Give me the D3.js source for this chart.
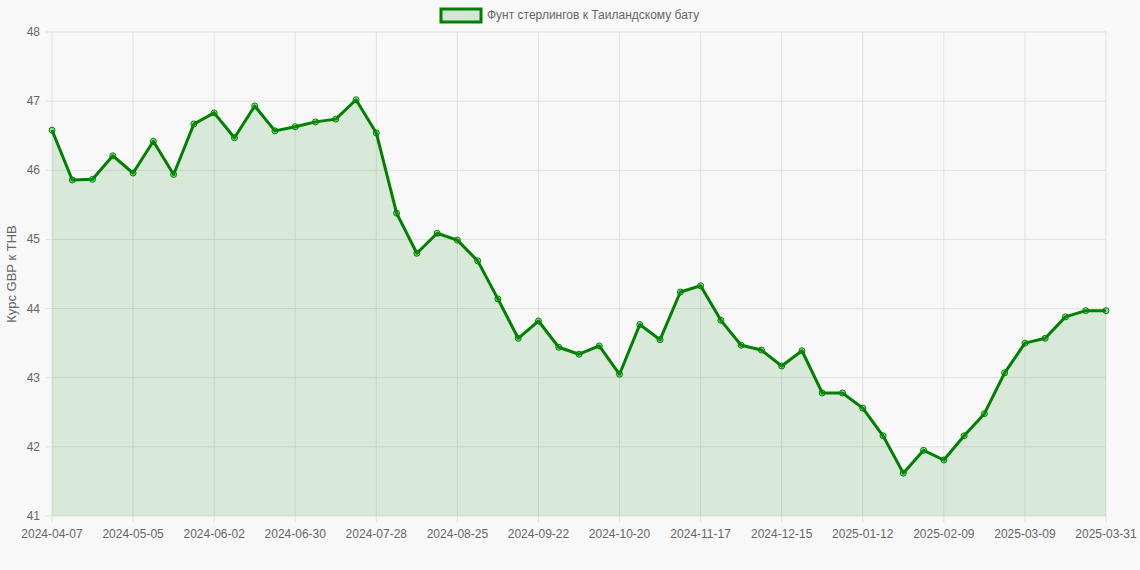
<!DOCTYPE html>
<html><head><meta charset="utf-8">
<script src="https://cdn.jsdelivr.net/npm/d3@7"></script>
<style>body{margin:0;background:#f8f8f8;font-family:"Liberation Sans",Arial,sans-serif;}</style>
</head><body><svg id="c" width="1140" height="570"></svg>
<script>
const dates=["2024-04-07","2024-04-14","2024-04-21","2024-04-28","2024-05-05","2024-05-12","2024-05-19","2024-05-26","2024-06-02","2024-06-09","2024-06-16","2024-06-23","2024-06-30","2024-07-07","2024-07-14","2024-07-21","2024-07-28","2024-08-04","2024-08-11","2024-08-18","2024-08-25","2024-09-01","2024-09-08","2024-09-15","2024-09-22","2024-09-29","2024-10-06","2024-10-13","2024-10-20","2024-10-27","2024-11-03","2024-11-10","2024-11-17","2024-11-24","2024-12-01","2024-12-08","2024-12-15","2024-12-22","2024-12-29","2025-01-05","2025-01-12","2025-01-19","2025-01-26","2025-02-02","2025-02-09","2025-02-16","2025-02-23","2025-03-02","2025-03-09","2025-03-16","2025-03-23","2025-03-30","2025-03-31"];
const values=[46.58,45.86,45.87,46.21,45.96,46.42,45.94,46.67,46.83,46.47,46.93,46.57,46.63,46.70,46.74,47.02,46.54,45.38,44.80,45.09,44.99,44.69,44.14,43.57,43.82,43.44,43.34,43.46,43.05,43.77,43.55,44.24,44.33,43.83,43.47,43.40,43.17,43.39,42.78,42.78,42.56,42.16,41.62,41.95,41.81,42.16,42.48,43.07,43.50,43.57,43.88,43.97,43.97];
const yTicks=[41,42,43,44,45,46,47,48];
const seriesName="Фунт стерлингов к Таиландскому бату";
const yTitle="Курс GBP к THB";

const svg=d3.select("#c");
const L=52,R=1106,T=32,B=516;
const x=d3.scalePoint().domain(dates).range([L,R]);
const y=d3.scaleLinear().domain([41,48]).range([B,T]);
const idx=dates.map((d,i)=>i);
const xLab=dates.filter((d,i)=>i%4===0||i===dates.length-1);
const g=svg.append("g");
// grid
g.selectAll(".vg").data(xLab).join("line").attr("x1",d=>x(d)).attr("x2",d=>x(d)).attr("y1",T).attr("y2",B+6).attr("stroke","#e0e0e0");
g.selectAll(".hg").data(yTicks).join("line").attr("x1",L-6).attr("x2",R).attr("y1",d=>y(d)).attr("y2",d=>y(d)).attr("stroke","#e0e0e0");
g.selectAll(".yl").data(yTicks).join("text").attr("x",L-12).attr("y",d=>y(d)+4).attr("text-anchor","end").attr("font-size",12).attr("fill","#666").text(d=>d);
g.selectAll(".xl").data(xLab).join("text").attr("x",d=>x(d)).attr("y",B+22).attr("text-anchor","middle").attr("font-size",12).attr("fill","#666").text(d=>d);
svg.append("text").attr("transform",`translate(16,${(T+B)/2}) rotate(-90)`).attr("text-anchor","middle").attr("font-size",13).attr("fill","#666").text(yTitle);
const area=d3.area().x((d,i)=>x(dates[i])).y0(y(41)).y1(d=>y(d));
svg.append("path").datum(values).attr("d",area).attr("fill","rgba(0,128,0,0.12)");
const line=d3.line().x((d,i)=>x(dates[i])).y(d=>y(d));
svg.append("path").datum(values).attr("d",line).attr("fill","none").attr("stroke","green").attr("stroke-width",3).attr("stroke-linejoin","round");
svg.selectAll(".pt").data(values).join("circle").attr("cx",(d,i)=>x(dates[i])).attr("cy",d=>y(d)).attr("r",3).attr("fill","rgba(0,160,0,0.35)").attr("stroke","green").attr("stroke-width",1);
// legend
svg.append("rect").attr("x",441).attr("y",9).attr("width",40).attr("height",13).attr("fill","rgba(0,128,0,0.15)").attr("stroke","green").attr("stroke-width",3);
svg.append("text").attr("x",487).attr("y",19).attr("font-size",12).attr("fill","#666").text(seriesName);
</script></body></html>
